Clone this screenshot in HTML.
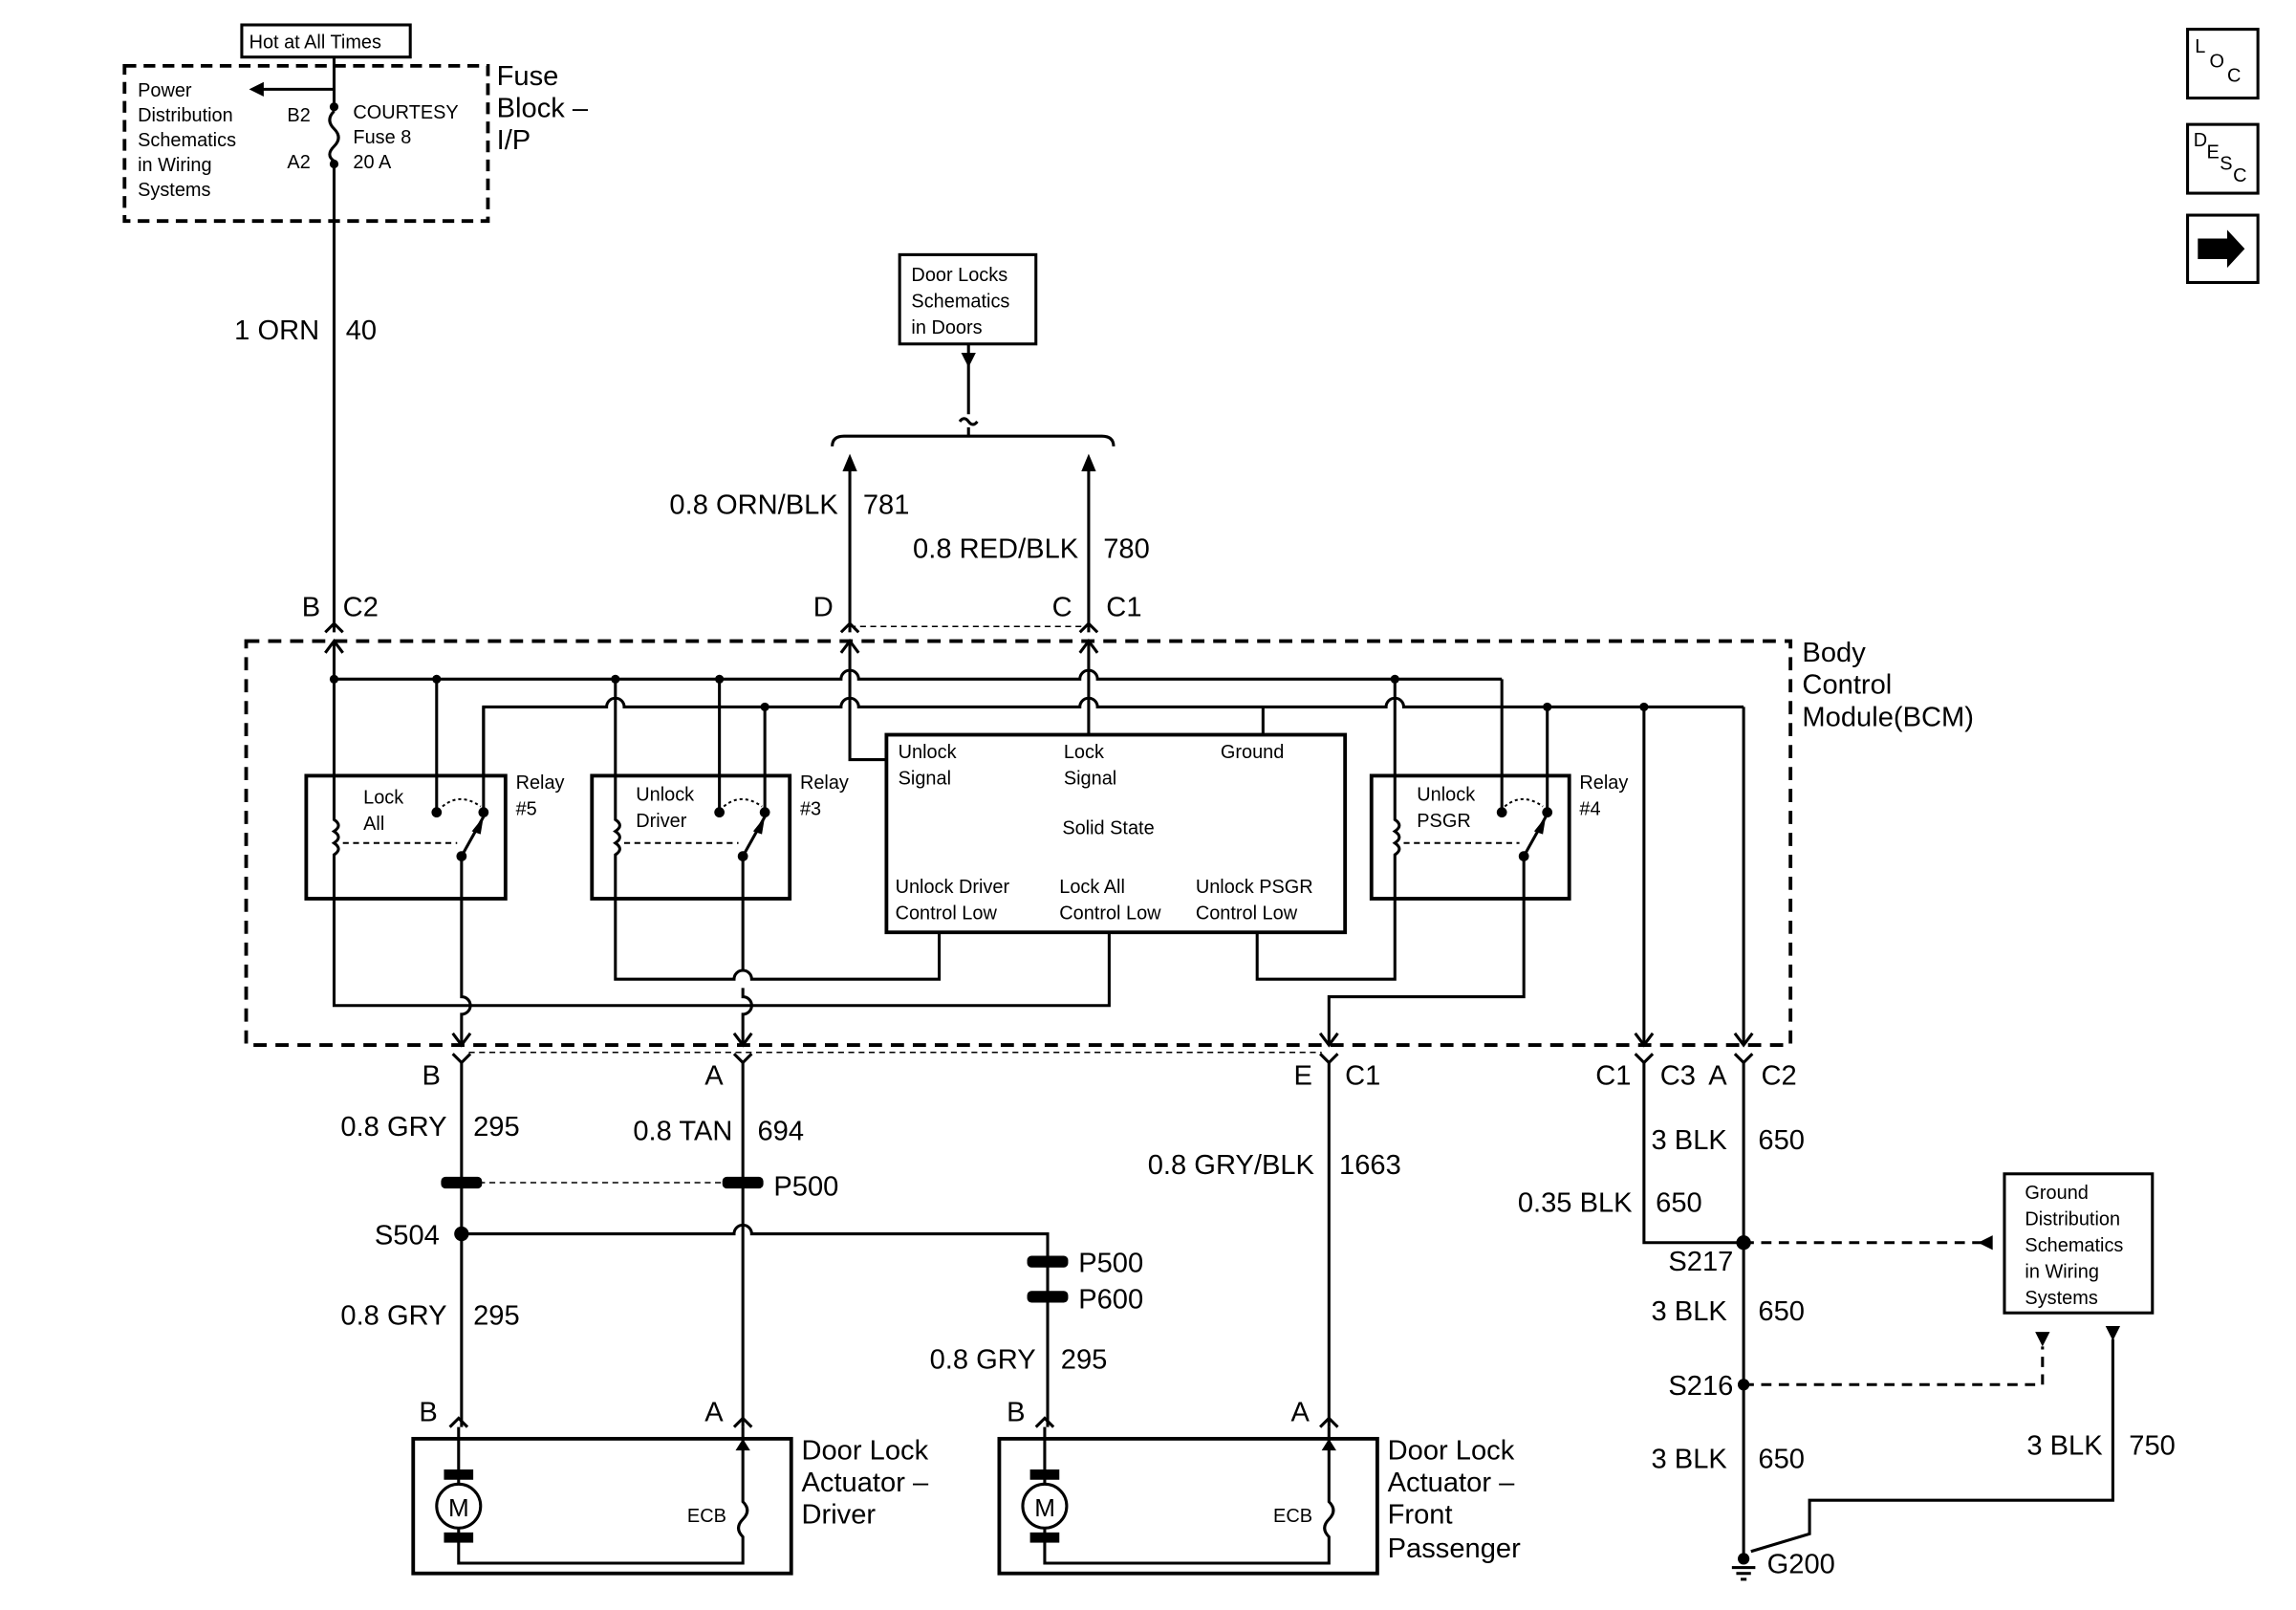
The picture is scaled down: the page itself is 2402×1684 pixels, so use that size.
<!DOCTYPE html>
<html><head><meta charset="utf-8"><style>html,body{margin:0;padding:0;background:#fff}svg{display:block}</style></head><body>
<svg width="2402" height="1684" viewBox="0 0 1567 1100" preserveAspectRatio="none" xmlns="http://www.w3.org/2000/svg" font-family="Liberation Sans, sans-serif">
<g fill="none" stroke="#000" stroke-width="2">
<!-- top fuse area -->
<rect x="165" y="17" width="115" height="22"/>
<rect x="85" y="45" width="248" height="106" stroke-dasharray="8,5" stroke-width="2.5"/>
<line x1="228" y1="39" x2="228" y2="76"/>
<path d="M228,76 q-6,6 0,12 q6,6 0,12 q-6,6 0,10"/>
<line x1="228" y1="110" x2="228" y2="432"/>
<line x1="228" y1="61" x2="178" y2="61"/>
<!-- door locks box -->
<rect x="614" y="174" width="93" height="61"/>
<line x1="661" y1="235" x2="661" y2="283"/>
<path d="M655,288 q3,-4 6,0 q3,4 6,0"/>
<line x1="661" y1="292" x2="661" y2="298"/>
<path d="M568,305 q0,-7 8,-7 L752,298 q8,0 8,7"/>
<line x1="580" y1="322" x2="580" y2="432"/>
<line x1="743" y1="322" x2="743" y2="432"/>
<line x1="580" y1="428" x2="743" y2="428" stroke-dasharray="4,3" stroke-width="1"/>
<!-- BCM -->
<rect x="168" y="438" width="1054" height="276" stroke-dasharray="9,6" stroke-width="2.5"/>
<path d="M228,438 L228,464 L574,464 a6,6 0 0 1 12,0 L737,464 a6,6 0 0 1 12,0 L1025,464"/>
<path d="M330,530 L330,483 L414,483 a6,6 0 0 1 12,0 L574,483 a6,6 0 0 1 12,0 L737,483 a6,6 0 0 1 12,0 L946,483 a6,6 0 0 1 12,0 L1190,483"/>
<path d="M580,438 L580,519 L605,519"/>
<line x1="743" y1="438" x2="743" y2="502"/>
<line x1="862" y1="483" x2="862" y2="502"/>
<rect x="605" y="502" width="313" height="135" stroke-width="2.5"/>
<!-- relays -->
<rect x="209" y="530" width="136" height="84" stroke-width="2.5"/>
<rect x="404" y="530" width="135" height="84" stroke-width="2.5"/>
<rect x="936" y="530" width="135" height="84" stroke-width="2.5"/>
<!-- relay 5 -->
<path d="M228,464 L228,560 q6,4 0,8 q6,4 0,8 q6,4 0,8 L228,687 L757,687 L757,637"/>
<line x1="298" y1="464" x2="298" y2="555"/>
<line x1="330" y1="483" x2="330" y2="555"/>
<path d="M315,585 L330,558"/>
<path d="M302,551 q12,-10 26,0" stroke-dasharray="2,2" stroke-width="1.3"/>
<line x1="234" y1="576" x2="312" y2="576" stroke-dasharray="4,3" stroke-width="1.3"/>
<path d="M315,585 L315,681 a6,6 0 0 1 0,12 L315,714"/>
<!-- relay 3 -->
<path d="M420,464 L420,560 q6,4 0,8 q6,4 0,8 q6,4 0,8 L420,669 L501,669 a6,6 0 0 1 12,0 L641,669 L641,637"/>
<line x1="491" y1="464" x2="491" y2="555"/>
<line x1="522" y1="483" x2="522" y2="555"/>
<path d="M507,585 L522,558"/>
<path d="M494,551 q12,-10 26,0" stroke-dasharray="2,2" stroke-width="1.3"/>
<line x1="426" y1="576" x2="504" y2="576" stroke-dasharray="4,3" stroke-width="1.3"/>
<path d="M507,585 L507,663 M507,675 L507,681 a6,6 0 0 1 0,12 L507,714"/>
<!-- relay 4 -->
<path d="M952,464 L952,560 q6,4 0,8 q6,4 0,8 q6,4 0,8 L952,669 L858,669 L858,637"/>
<line x1="1025" y1="464" x2="1025" y2="555"/>
<line x1="1056" y1="483" x2="1056" y2="555"/>
<path d="M1040,585 L1055,558"/>
<path d="M1027,551 q12,-10 26,0" stroke-dasharray="2,2" stroke-width="1.3"/>
<line x1="958" y1="576" x2="1037" y2="576" stroke-dasharray="4,3" stroke-width="1.3"/>
<path d="M1040,585 L1040,681 L907,681 L907,714"/>
<line x1="1122" y1="483" x2="1122" y2="714"/>
<line x1="1190" y1="483" x2="1190" y2="714"/>
<line x1="320" y1="719" x2="902" y2="719" stroke-dasharray="4,3" stroke-width="1"/>
<!-- inside arrowheads at border -->
<path d="M222,446 l6,-8 l6,8 M574,446 l6,-8 l6,8 M737,446 l6,-8 l6,8"/>
<path d="M309,706 l6,8 l6,-8 M501,706 l6,8 l6,-8 M901,706 l6,8 l6,-8 M1116,706 l6,8 l6,-8 M1184,706 l6,8 l6,-8"/>
<!-- outside forks -->
<path d="M222,432 l6,-6 l6,6 M574,432 l6,-6 l6,6 M737,432 l6,-6 l6,6"/>
<path d="M309,720 l6,6 l6,-6 M501,720 l6,6 l6,-6 M901,720 l6,6 l6,-6 M1116,720 l6,6 l6,-6 M1184,720 l6,6 l6,-6"/>
<!-- lower wires -->
<line x1="315" y1="726" x2="315" y2="975"/>
<line x1="507" y1="726" x2="507" y2="975"/>
<path d="M315,843 L501,843 a6,6 0 0 1 12,0 L715,843 L715,975"/>
<line x1="320" y1="808" x2="502" y2="808" stroke-dasharray="4,3" stroke-width="1"/>
<line x1="907" y1="726" x2="907" y2="975"/>
<path d="M1122,726 L1122,849 L1190,849"/>
<line x1="1190" y1="726" x2="1190" y2="1065"/>
<line x1="1190" y1="849" x2="1352" y2="849" stroke-dasharray="7,5"/>
<path d="M1190,946 L1394,946 L1394,920" stroke-dasharray="7,5"/>
<path d="M1442,915 L1442,1025 L1235,1025 L1235,1048 L1195,1060"/>
<rect x="1368" y="802" width="101" height="95"/>
<!-- actuators -->
<rect x="282" y="983" width="258" height="92" stroke-width="2.5"/>
<rect x="682" y="983" width="258" height="92" stroke-width="2.5"/>
<path d="M313,975 L313,1068 L507,1068 L507,1050 q-6,-6 0,-12 q6,-6 0,-12 L507,975"/>
<path d="M713,975 L713,1068 L907,1068 L907,1050 q-6,-6 0,-12 q6,-6 0,-12 L907,975"/>
<circle cx="313" cy="1029" r="15" fill="#fff"/>
<circle cx="713" cy="1029" r="15" fill="#fff"/>
<path d="M307,975 l6,-6 l6,6 M501,975 l6,-6 l6,6 M707,975 l6,-6 l6,6 M901,975 l6,-6 l6,6"/>
<!-- icons -->
<rect x="1493" y="20" width="48" height="47"/>
<rect x="1493" y="85" width="48" height="47"/>
<rect x="1493" y="147" width="48" height="46"/>
</g>
<g fill="#000">
<path d="M170,61 l10,-5 l0,10 Z"/>
<path d="M575,322 l5,-12 l5,12 Z M738,322 l5,-12 l5,12 Z"/>
<path d="M656,241 l5,10 l5,-10 Z"/>
<path d="M1350,849 l10,-5 l0,10 Z"/>
<path d="M1389,910 l5,10 l5,-10 Z M1437,906 l5,10 l5,-10 Z"/>
<path d="M502,991 l5,-8 l5,8 Z M902,991 l5,-8 l5,8 Z"/>
<path d="M330,558 l-8,10 l6,2 Z M522,558 l-8,10 l6,2 Z M1055,558 l-8,10 l6,2 Z"/>
<circle cx="228" cy="73" r="3"/><circle cx="228" cy="112" r="3"/>
<circle cx="228" cy="464" r="3"/><circle cx="298" cy="464" r="3"/><circle cx="420" cy="464" r="3"/><circle cx="491" cy="464" r="3"/><circle cx="952" cy="464" r="3"/>
<circle cx="522" cy="483" r="3"/><circle cx="1056" cy="483" r="3"/><circle cx="1122" cy="483" r="3"/>
<circle cx="298" cy="555" r="3.5"/><circle cx="330" cy="555" r="3.5"/><circle cx="491" cy="555" r="3.5"/><circle cx="522" cy="555" r="3.5"/><circle cx="1025" cy="555" r="3.5"/><circle cx="1056" cy="555" r="3.5"/>
<circle cx="315" cy="585" r="3.5"/><circle cx="507" cy="585" r="3.5"/><circle cx="1040" cy="585" r="3.5"/>
<circle cx="315" cy="843" r="5"/><circle cx="1190" cy="849" r="5"/><circle cx="1190" cy="946" r="4"/><circle cx="1190" cy="1065" r="4"/>
<rect x="301" y="804" width="28" height="8" rx="3"/><rect x="493" y="804" width="28" height="8" rx="3"/>
<rect x="701" y="858" width="28" height="8" rx="3"/><rect x="701" y="882" width="28" height="8" rx="3"/>
<rect x="303" y="1004" width="20" height="7"/><rect x="303" y="1047" width="20" height="7"/>
<rect x="703" y="1004" width="20" height="7"/><rect x="703" y="1047" width="20" height="7"/>
<rect x="1182" y="1070" width="16" height="2"/><rect x="1185" y="1074" width="10" height="2"/><rect x="1188" y="1078" width="4" height="2"/>
<path d="M1500,163 h20 v-6 l12,13 l-12,13 v-6 h-20 Z"/>
</g>
<g font-size="13" fill="#000">
<text x="170" y="33">Hot at All Times</text>
<text x="94" y="66">Power</text><text x="94" y="83">Distribution</text><text x="94" y="100">Schematics</text><text x="94" y="117">in Wiring</text><text x="94" y="134">Systems</text>
<text x="196" y="83">B2</text><text x="196" y="115">A2</text>
<text x="241" y="81">COURTESY</text><text x="241" y="98">Fuse 8</text><text x="241" y="115">20 A</text>
<text x="622" y="192">Door Locks</text><text x="622" y="210">Schematics</text><text x="622" y="228">in Doors</text>
<text x="613" y="518">Unlock</text><text x="613" y="536">Signal</text>
<text x="726" y="518">Lock</text><text x="726" y="536">Signal</text>
<text x="833" y="518">Ground</text><text x="725" y="570">Solid State</text>
<text x="611" y="610">Unlock Driver</text><text x="611" y="628">Control Low</text>
<text x="723" y="610">Lock All</text><text x="723" y="628">Control Low</text>
<text x="816" y="610">Unlock PSGR</text><text x="816" y="628">Control Low</text>
<text x="248" y="549">Lock</text><text x="248" y="567">All</text>
<text x="352" y="539">Relay</text><text x="352" y="557">#5</text>
<text x="434" y="547">Unlock</text><text x="434" y="565">Driver</text>
<text x="546" y="539">Relay</text><text x="546" y="557">#3</text>
<text x="967" y="547">Unlock</text><text x="967" y="565">PSGR</text>
<text x="1078" y="539">Relay</text><text x="1078" y="557">#4</text>
<text x="469" y="1040">ECB</text><text x="869" y="1040">ECB</text>
<text x="1382" y="819">Ground</text><text x="1382" y="837">Distribution</text><text x="1382" y="855">Schematics</text><text x="1382" y="873">in Wiring</text><text x="1382" y="891">Systems</text>
<text x="1498" y="36">L</text><text x="1508" y="46">O</text><text x="1520" y="56">C</text>
<text x="1497" y="100">D</text><text x="1506" y="108">E</text><text x="1515" y="116">S</text><text x="1524" y="124">C</text>
</g>
<g font-size="19" fill="#000">
<text x="339" y="58">Fuse</text><text x="339" y="80">Block –</text><text x="339" y="102">I/P</text>
<text x="218" y="232" text-anchor="end">1 ORN</text><text x="236" y="232">40</text>
<text x="572" y="351" text-anchor="end">0.8 ORN/BLK</text><text x="589" y="351">781</text>
<text x="736" y="381" text-anchor="end">0.8 RED/BLK</text><text x="753" y="381">780</text>
<text x="206" y="421">B</text><text x="234" y="421">C2</text>
<text x="555" y="421">D</text><text x="718" y="421">C</text><text x="755" y="421">C1</text>
<text x="1230" y="452">Body</text><text x="1230" y="474">Control</text><text x="1230" y="496">Module(BCM)</text>
<text x="288" y="741">B</text><text x="481" y="741">A</text>
<text x="883" y="741">E</text><text x="918" y="741">C1</text>
<text x="1089" y="741">C1</text><text x="1133" y="741">C3</text><text x="1166" y="741">A</text><text x="1202" y="741">C2</text>
<text x="305" y="776" text-anchor="end">0.8 GRY</text><text x="323" y="776">295</text>
<text x="500" y="779" text-anchor="end">0.8 TAN</text><text x="517" y="779">694</text>
<text x="528" y="817">P500</text>
<text x="300" y="850" text-anchor="end">S504</text>
<text x="305" y="905" text-anchor="end">0.8 GRY</text><text x="323" y="905">295</text>
<text x="736" y="869">P500</text><text x="736" y="894">P600</text>
<text x="707" y="935" text-anchor="end">0.8 GRY</text><text x="724" y="935">295</text>
<text x="897" y="802" text-anchor="end">0.8 GRY/BLK</text><text x="914" y="802">1663</text>
<text x="1127" y="785">3 BLK</text><text x="1200" y="785">650</text>
<text x="1114" y="828" text-anchor="end">0.35 BLK</text><text x="1130" y="828">650</text>
<text x="1183" y="868" text-anchor="end">S217</text>
<text x="1127" y="902">3 BLK</text><text x="1200" y="902">650</text>
<text x="1183" y="953" text-anchor="end">S216</text>
<text x="1127" y="1003">3 BLK</text><text x="1200" y="1003">650</text>
<text x="1435" y="994" text-anchor="end">3 BLK</text><text x="1453" y="994">750</text>
<text x="1206" y="1075">G200</text>
<text x="286" y="971">B</text><text x="481" y="971">A</text><text x="687" y="971">B</text><text x="881" y="971">A</text>
<text x="547" y="997">Door Lock</text><text x="547" y="1019">Actuator –</text><text x="547" y="1041">Driver</text>
<text x="947" y="997">Door Lock</text><text x="947" y="1019">Actuator –</text><text x="947" y="1041">Front</text><text x="947" y="1064">Passenger</text>
<text x="306" y="1036" font-size="17">M</text><text x="706" y="1036" font-size="17">M</text>
</g>
</svg>
</body></html>
